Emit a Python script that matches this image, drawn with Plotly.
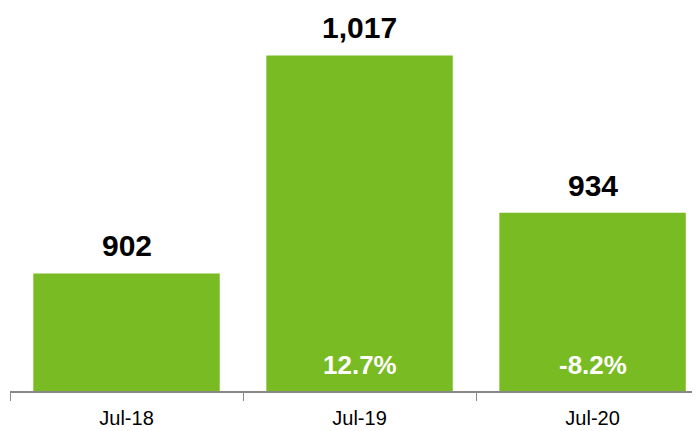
import plotly.graph_objects as go

categories = ["Jul-18", "Jul-19", "Jul-20"]
values = [902, 1017, 934]
value_labels = ["902", "1,017", "934"]
change_labels = ["", "12.7%", "-8.2%"]

y_min = 840
y_max = 1042.0
green = "#79BB22"
font_family = "Liberation Sans, Arial, sans-serif"

fig = go.Figure()
fig.add_trace(go.Bar(x=categories, y=values, marker=dict(color=green, line=dict(width=0)),
                     hoverinfo="skip"))

for c, v, t in zip(categories, values, value_labels):
    fig.add_annotation(x=c, y=v, text=f"<b>{t}</b>", showarrow=False, yanchor="bottom", yshift=9,
                       font=dict(family=font_family, size=30, color="#000000"))
for c, t in zip(categories, change_labels):
    if t:
        fig.add_annotation(x=c, y=y_min, text=f"<b>{t}</b>", showarrow=False, yanchor="bottom", yshift=9,
                           font=dict(family=font_family, size=26, color="#ffffff"))

fig.update_layout(
    width=692, height=423,
    margin=dict(l=2, r=0, t=0, b=40),
    paper_bgcolor="white", plot_bgcolor="white",
    bargap=0.2, showlegend=False,
    font=dict(family=font_family),
)
fig.update_xaxes(type="category", range=[-0.5, 2.461], tickson="boundaries", ticks="outside", ticklen=8,
                 tickcolor="#888888", showline=True, linecolor="#888888", linewidth=1.5,
                 showgrid=False, tickfont=dict(size=20, color="#000000"), ticklabelstandoff=8)
fig.update_yaxes(range=[y_min, y_max], visible=False, showgrid=False, zeroline=False)

fig.write_html("out.html")
